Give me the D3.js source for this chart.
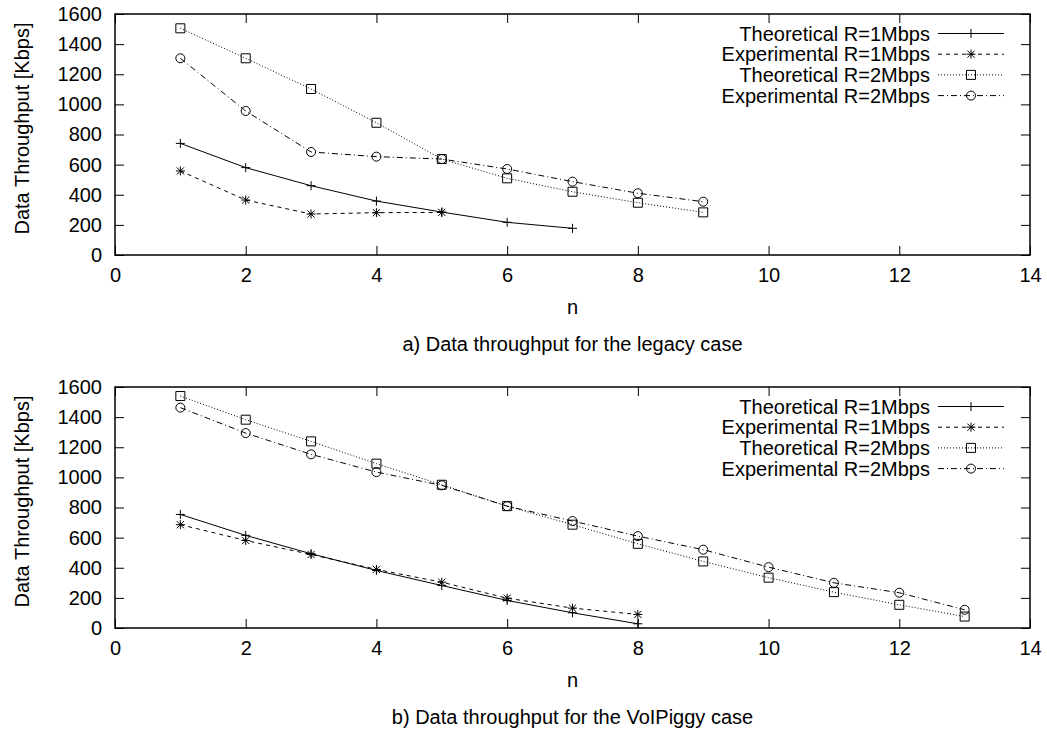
<!DOCTYPE html>
<html>
<head>
<meta charset="utf-8">
<script src="https://cdn.jsdelivr.net/npm/d3@7"></script>
<style>
  body { margin: 0; background: #fff; }
  svg { display: block; font-family: "Liberation Sans", Arial, sans-serif; }
</style>
</head>
<body>
<svg id="viz"></svg>
<script>
const width = 1047;
const height = 735;
const svg = d3.select("#viz").attr("width", width).attr("height", height);

// values (Kbps)
const seriesNames = ["Theoretical R=1Mbps", "Experimental R=1Mbps", "Theoretical R=2Mbps", "Experimental R=2Mbps"];
const xTicks = [0, 2, 4, 6, 8, 10, 12, 14];
const yTicks = [0, 200, 400, 600, 800, 1000, 1200, 1400, 1600];

// a) legacy case
const legacyTheo1N = [1, 2, 3, 4, 5, 6, 7];
const legacyTheo1 = [741, 580, 460, 358, 285, 217, 177];
const legacyExp1N = [1, 2, 3, 4, 5];
const legacyExp1 = [558, 365, 272, 281, 283];
const legacyR2N = [1, 2, 3, 4, 5, 6, 7, 8, 9];
const legacyTheo2 = [1505, 1306, 1102, 878, 637, 509, 420, 347, 283];
const legacyExp2 = [1306, 956, 684, 653, 637, 571, 487, 410, 354];

// b) VoIPiggy case
const voipR1N = [1, 2, 3, 4, 5, 6, 7, 8];
const voipTheo1 = [754, 615, 493, 382, 282, 183, 101, 28];
const voipExp1 = [686, 581, 488, 389, 304, 198, 132, 90];
const voipR2N = [1, 2, 3, 4, 5, 6, 7, 8, 9, 10, 11, 12, 13];
const voipTheo2 = [1540, 1383, 1239, 1091, 951, 809, 686, 559, 442, 334, 238, 154, 76];
const voipExp2 = [1463, 1294, 1153, 1035, 947, 809, 710, 610, 520, 404, 300, 234, 121];

const styles = [
  { dash: null, marker: "plus" },
  { dash: "4,4", marker: "star" },
  { dash: "1,2", marker: "square" },
  { dash: "6,3,1,3", marker: "circle" }
];

const s = 4.5;
const markerPaths = {
  plus: `M${-s},0H${s}M0,${-s}V${s}`,
  star: `M${-s},0H${s}M0,${-s}V${s}M${-s * 0.8},${-s * 0.8}L${s * 0.8},${s * 0.8}M${-s * 0.8},${s * 0.8}L${s * 0.8},${-s * 0.8}`,
  square: `M${-s},${-s}H${s}V${s}H${-s}Z`
};

function drawMarker(g, type, x, y) {
  if (type === "circle") {
    g.append("circle").attr("cx", x).attr("cy", y).attr("r", s)
      .attr("fill", "none").attr("stroke", "#000").attr("stroke-width", 1);
  } else {
    g.append("path").attr("d", markerPaths[type])
      .attr("transform", `translate(${x},${y})`)
      .attr("fill", "none").attr("stroke", "#000").attr("stroke-width", 1);
  }
}

function drawPanel(top, series, caption) {
  const left = 115, right = 1030, bottom = top + 241;
  const x = d3.scaleLinear().domain([0, 14]).range([left, right]);
  const y = d3.scaleLinear().domain([0, 1600]).range([bottom, top]);
  const g = svg.append("g");

  const fmt = d3.format("d");
  const axes = [
    [d3.axisBottom(x).tickValues(xTicks).tickFormat(fmt), `translate(0,${bottom})`, true],
    [d3.axisTop(x).tickValues(xTicks).tickFormat(""), `translate(0,${top})`, false],
    [d3.axisLeft(y).tickValues(yTicks).tickFormat(fmt), `translate(${left},0)`, true],
    [d3.axisRight(y).tickValues(yTicks).tickFormat(""), `translate(${right},0)`, false]
  ];
  axes.forEach(([ax, tr]) => {
    const a = g.append("g").attr("transform", tr)
      .call(ax.tickSize(-9).tickPadding(13));
    a.select(".domain").remove();
    a.selectAll("line").attr("stroke", "#000");
    a.selectAll("text").attr("font-size", 20).attr("fill", "#000")
      .attr("font-family", "Liberation Sans, Arial, sans-serif");
  });

  g.append("rect").attr("x", left).attr("y", top)
    .attr("width", right - left).attr("height", bottom - top)
    .attr("fill", "none").attr("stroke", "#000").attr("stroke-width", 1.5);

  const line = d3.line().x(d => x(d[0])).y(d => y(d[1]));
  series.forEach((sr, i) => {
    const pts = sr.n.map((n, j) => [n, sr.v[j]]);
    g.append("path").datum(pts).attr("d", line)
      .attr("fill", "none").attr("stroke", "#000").attr("stroke-width", 1)
      .attr("stroke-dasharray", styles[i].dash);
    pts.forEach(p => drawMarker(g, styles[i].marker, x(p[0]), y(p[1])));
  });

  // legend
  seriesNames.forEach((name, i) => {
    const ly = top + 19.5 + i * 20.7;
    g.append("text").attr("x", 930).attr("y", ly).attr("dy", "0.35em")
      .attr("text-anchor", "end").attr("font-size", 20).text(name);
    g.append("line").attr("x1", 938).attr("x2", 1004).attr("y1", ly).attr("y2", ly)
      .attr("stroke", "#000").attr("stroke-width", 1)
      .attr("stroke-dasharray", styles[i].dash);
    drawMarker(g, styles[i].marker, 971, ly);
  });

  g.append("text").attr("transform", `translate(22,${(top + bottom) / 2 - 6}) rotate(-90)`)
    .attr("dy", "0.35em").attr("text-anchor", "middle").attr("font-size", 20)
    .text("Data Throughput [Kbps]");
  g.append("text").attr("x", (left + right) / 2).attr("y", bottom + 59)
    .attr("text-anchor", "middle").attr("font-size", 20).text("n");
  g.append("text").attr("x", (left + right) / 2).attr("y", bottom + 96)
    .attr("text-anchor", "middle").attr("font-size", 20).text(caption);
}

drawPanel(14, [
  { n: legacyTheo1N, v: legacyTheo1 },
  { n: legacyExp1N, v: legacyExp1 },
  { n: legacyR2N, v: legacyTheo2 },
  { n: legacyR2N, v: legacyExp2 }
], "a) Data throughput for the legacy case");

drawPanel(387, [
  { n: voipR1N, v: voipTheo1 },
  { n: voipR1N, v: voipExp1 },
  { n: voipR2N, v: voipTheo2 },
  { n: voipR2N, v: voipExp2 }
], "b) Data throughput for the VoIPiggy case");
</script>
</body>
</html>
